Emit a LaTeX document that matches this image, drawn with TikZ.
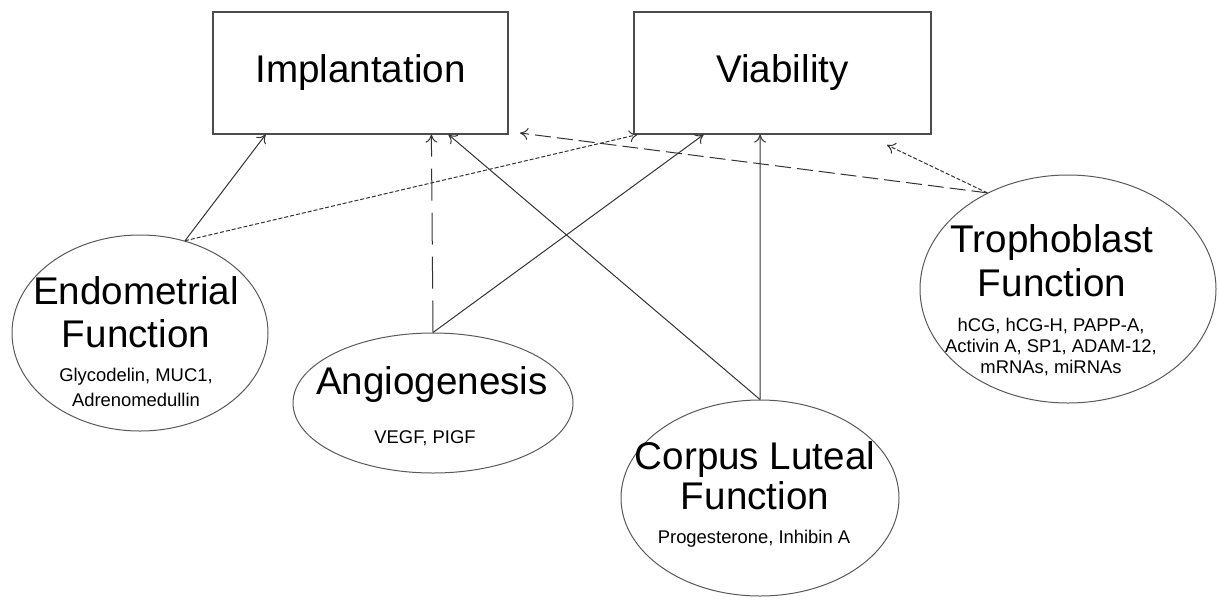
\documentclass[tikz,border=0pt]{standalone}
\usepackage{fontspec}
\setmainfont{Liberation Sans}
\usetikzlibrary{arrows.meta,shapes.geometric}
\tikzset{
  boxnode/.style = {rectangle, draw=black!70, line width=0.6pt,
    inner sep=0pt, font=\fontsize{19.3}{23}\selectfont},
  oval/.style = {ellipse, draw=black!65, line width=0.5pt, inner sep=0pt},
  headtext/.style = {align=center, inner sep=0pt,
    font=\fontsize{19.3}{#1}\selectfont},% two-line heading in an oval
  headtext/.default = 21.5,
  subtext/.style = {align=center, inner sep=0pt,
    font=\fontsize{9.2}{#1}\selectfont},% marker list under the heading
  subtext/.default = 12.5,
  link/.style = {draw=black!80, line width=0.5pt,
    -{To[length=4pt,width=6pt]}},
  shortdash/.style = {link, dash pattern=on 2pt off 1pt},
  longdash/.style = {link, dash pattern=on 8pt off 3pt},
  gapdash/.style = {link, dash pattern=on 16pt off 6pt}
}

\begin{document}
\begin{tikzpicture}[x=0.5pt, y=-0.5pt]
  \useasboundingbox (0,0) rectangle (1220,600);
  % outcomes
  \node [boxnode, minimum width=147.5pt, minimum height=61pt] (impl) at (360.5,73) {Implantation};
  \node [boxnode, minimum width=148.5pt, minimum height=61pt] (viab) at (782.5,73) {Viability};
  % ovals
  \node [oval, minimum width=128pt, minimum height=98pt] (endo) at (140,333) {};
  \node [oval, minimum width=140pt, minimum height=70pt] (angio) at (433,403) {};
  \node [oval, minimum width=139pt, minimum height=98pt] (corpus) at (760,498) {};
  \node [oval, minimum width=148pt, minimum height=114pt] (tropho) at (1068,289) {};
  % oval texts
  \node [headtext] (endohead) at (136,312) {Endometrial\\Function};
  \node [subtext] (endosub) at (136,387) {Glycodelin, MUC1,\\Adrenomedullin};
  \node [headtext] (angiohead) at (432,385) {Angiogenesis};
  \node [subtext] (angiosub) at (425,438) {VEGF, PIGF};
  \node [headtext=20] (corpushead) at (755,476) {Corpus Luteal\\Function};
  \node [subtext] (corpussub) at (754,539) {Progesterone, Inhibin A};
  \node [headtext=22] (trophohead) at (1052,261) {Trophoblast\\Function};
  \node [subtext=10.3] (trophosub) at (1051,347) {hCG, hCG-H, PAPP-A,\\Activin A, SP1, ADAM-12,\\mRNAs, miRNAs};
  % free ends
  \coordinate (implgap) at (520,133);
  \coordinate (viabgap) at (887,145);
  % links
  \draw [link] (endo.64) -- (impl.-147);
  \draw [shortdash] (endo.64) -- (viab.-157);
  \draw [gapdash] (angio.north) -- (impl.-41);
  \draw [link] (angio.north) -- (viab.-142);
  \draw [link] (corpus.north) -- (impl.-35);
  \draw [link] (corpus.north) -- (viab.-110);
  \draw [longdash] (tropho.130) -- (implgap);
  \draw [shortdash] (tropho.130) -- (viabgap);
\end{tikzpicture}
\end{document}
